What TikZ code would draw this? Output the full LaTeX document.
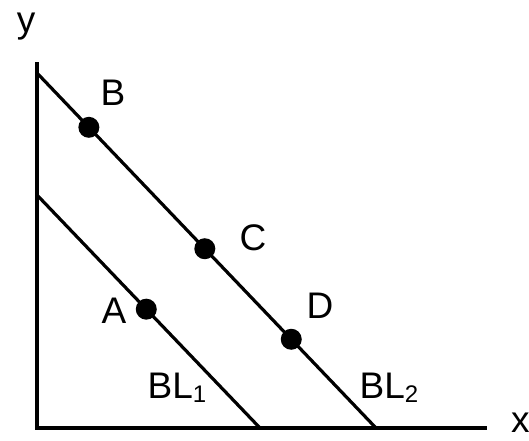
\documentclass[tikz,border=0pt]{standalone}
\usepackage{fontspec}
\setmainfont{Liberation Sans}
\usetikzlibrary{calc}
\begin{document}
\begin{tikzpicture}[x=1pt,y=-1pt,
  axis/.style={line width=4.5pt},
  bline/.style={line width=3.2pt},
  dot/.style={circle,fill=black,inner sep=0pt,minimum size=21pt},
  lbl/.style={font=\fontsize{37}{37}\selectfont,inner sep=0pt}]
\useasboundingbox (0,0) rectangle (529,440);
\coordinate (O) at (37,428);
\coordinate (ytop) at (37,62);
\coordinate (xend) at (487,428);
\coordinate (b1s) at (37,195);
\coordinate (b1e) at (260,428);
\coordinate (b2s) at (37,73);
\coordinate (b2e) at (376,428);
\draw[axis] (ytop) -- (O) -- (xend);
\draw[bline] (b1s) -- (b1e);
\draw[bline] (b2s) -- (b2e);
\node[dot] (B) at ($(b2s)!0.153!(b2e)$) {};
\node[dot] (C) at ($(b2s)!0.495!(b2e)$) {};
\node[dot] (D) at ($(b2s)!0.75!(b2e)$) {};
\node[dot] (A) at ($(b1s)!0.49!(b1e)$) {};
\node[lbl] (lB) at (113,93) {B};
\node[lbl] (lC) at (253,238) {C};
\node[lbl] (lD) at (320,306) {D};
\node[lbl] (lA) at (114,311) {A};
\node[lbl] (lBL1) at (177,388) {BL\raisebox{-0.1em}{\fontsize{24}{24}\selectfont 1}};
\node[lbl] (lBL2) at (389,388) {BL\raisebox{-0.1em}{\fontsize{24}{24}\selectfont 2}};
\node[lbl] (ly) at (26,27) {y};
\node[lbl,anchor=west] (lx) at (511,423) {x};
\end{tikzpicture}
\end{document}
